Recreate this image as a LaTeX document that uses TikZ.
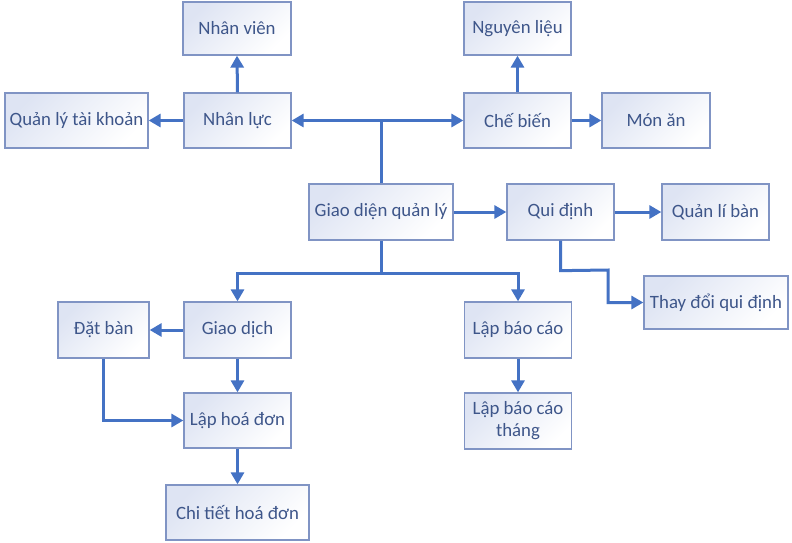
\documentclass[tikz,border=0pt]{standalone}
\usepackage{fontspec}
\setmainfont{Carlito}
\usetikzlibrary{arrows.meta,calc}
\definecolor{arrowc}{RGB}{68,114,196}
\definecolor{borderc}{RGB}{128,148,196}
\definecolor{textc}{RGB}{62,86,138}
\definecolor{shadec}{RGB}{222,228,243}
\tikzset{
  box/.style={rectangle, draw=borderc, line width=1.3pt, shade, top color=shadec, bottom color=white, shading angle=45,
    text=textc, font=\fontsize{18.8pt}{22pt}\selectfont, align=center, inner sep=0pt},
  conn/.style={draw=arrowc, line width=3pt},
  arr/.style={conn, -{Triangle[length=12pt,width=13pt]}},
}
\begin{document}
\begin{tikzpicture}[x=1pt,y=-1pt]
\useasboundingbox (0,0) rectangle (792,542);
\fill[white] (0,0) rectangle (792,542);
\node[box, minimum width=108pt, minimum height=53pt] (nv) at (237,28.5) {Nhân viên};
\node[box, minimum width=107pt, minimum height=53pt] (ngl) at (517.5,28.5) {Nguyên liệu};
\node[box, minimum width=143pt, minimum height=55pt] (qltk) at (76.5,120.5) {Quản lý tài khoản};
\node[box, minimum width=107pt, minimum height=55pt] (nl) at (237.5,120.5) {Nhân lực};
\node[box, minimum width=107pt, minimum height=55pt] (cb) at (517.5,120.5) {Chế biến};
\node[box, minimum width=108pt, minimum height=55pt] (ma) at (656,120.5) {Món ăn};
\node[box, minimum width=144pt, minimum height=56pt] (gd) at (381,212) {Giao diện quản lý};
\node[box, minimum width=107pt, minimum height=56pt] (qd) at (560.5,212) {Qui định};
\node[box, minimum width=107pt, minimum height=56pt] (qlb) at (715.5,212) {Quản lí bàn};
\node[box, minimum width=144pt, minimum height=53pt] (td) at (716,302.5) {Thay đổi qui định};
\node[box, minimum width=91pt, minimum height=56pt] (db) at (103.5,330) {Đặt bàn};
\node[box, minimum width=107pt, minimum height=56pt] (gdich) at (237.5,330) {Giao dịch};
\node[box, minimum width=107pt, minimum height=55pt] (lhd) at (237.5,420.5) {Lập hoá đơn};
\node[box, minimum width=143pt, minimum height=55pt] (ct) at (237.5,512.5) {Chi tiết hoá đơn};
\node[box, minimum width=107pt, minimum height=56pt] (lbc) at (518,330) {Lập báo cáo};
\node[box, minimum width=107pt, minimum height=56pt] (lbct) at (518,421) {Lập báo cáo\\tháng};

\coordinate (j1) at (gd.north |- nl.east);
\coordinate (j2) at ($(gd.south)+(0,33)$);
\draw[conn] (gd.north) -- (j1);
\draw[arr] (j1) -- (nl.east);
\draw[arr] (j1) -- (cb.west);
\draw[arr] (nl.north) -- (nv.south);
\draw[arr] (nl.west) -- (qltk.east);
\draw[arr] (cb.north) -- (ngl.south);
\draw[arr] (cb.east) -- (ma.west);
\draw[arr] (gd.east) -- (qd.west);
\draw[arr] (qd.east) -- (qlb.west);
\coordinate (k1) at ($(qd.south)+(0,30)$);
\coordinate (k2) at (608,270);
\draw[arr] (qd.south) -- (k1) -- (k2) -- (k2 |- td.west) -- (td.west);
\draw[conn] (gd.south) -- (j2);
\draw[arr] (j2) -| (gdich.north);
\draw[arr] (j2) -| (lbc.north);
\draw[arr] (gdich.west) -- (db.east);
\draw[arr] (gdich.south) -- (lhd.north);
\draw[arr] (db.south) |- (lhd.west);
\draw[arr] (lhd.south) -- (ct.north);
\draw[arr] (lbc.south) -- (lbct.north);
\end{tikzpicture}
\end{document}
